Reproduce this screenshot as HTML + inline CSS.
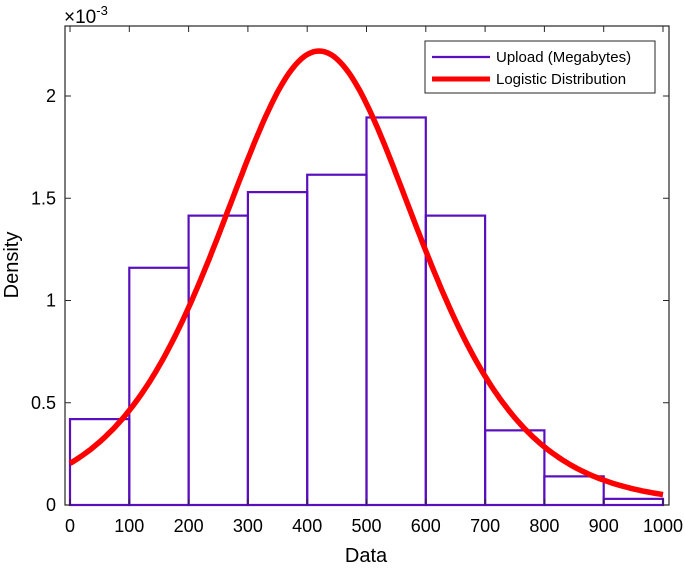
<!DOCTYPE html>
<html><head><meta charset="utf-8"><style>
body{margin:0;background:#fff;}
svg text{font-family:"Liberation Sans",Arial,sans-serif;}
</style></head><body>
<svg id="chart" width="685" height="570" xmlns="http://www.w3.org/2000/svg"></svg>
<script>
const binEdges=[0,100,200,300,400,500,600,700,800,900,1000];
const binDensity=[0.42,1.16,1.415,1.53,1.615,1.895,1.415,0.365,0.14,0.03];
const fitMu=[420];
const fitScale=[112.6];
const xTicks=[0,100,200,300,400,500,600,700,800,900,1000];
const yTicks=[0,0.5,1,1.5,2];
const yTickLabels=["0","0.5","1","1.5","2"];
const NS="http://www.w3.org/2000/svg";
const svg=document.getElementById('chart');
const L=65,R=669,T=26,B=505;
const X=v=>70+v*0.593;
const Y=v=>505-v*204.5;
function mk(t,a,p){const e=document.createElementNS(NS,t);for(const k in a)e.setAttribute(k,a[k]);(p||svg).appendChild(e);return e;}
const box=mk('rect',{x:L,y:T,width:R-L,height:B-T,fill:'none',stroke:'#262626','stroke-width':1.2});


binDensity.forEach((h,i)=>{
 const r=mk('rect',{x:X(binEdges[i]),y:Y(h),width:X(binEdges[i+1])-X(binEdges[i]),height:Y(0)-Y(h),fill:'none',stroke:'#5a0fbf','stroke-width':2.2});
 
 
});
let c='';
for(let v=0;v<=1000;v+=5){const z=Math.exp(-(v-fitMu[0])/fitScale[0]);const p=z/(fitScale[0]*(1+z)*(1+z))*1000;c+=(v?' L':'M')+X(v).toFixed(1)+','+Y(p).toFixed(1);}
const curve=mk('path',{d:c,fill:'none',stroke:'#ff0000','stroke-width':5.5});


xTicks.forEach(v=>{
 mk('line',{x1:X(v),x2:X(v),y1:B,y2:B-6,stroke:'#262626'});
 mk('line',{x1:X(v),x2:X(v),y1:T,y2:T+6,stroke:'#262626'});
 const t=mk('text',{x:X(v),y:532,'font-size':18,'text-anchor':'middle',fill:'#000'});t.textContent=v;
 
 
});
yTicks.forEach((v,i)=>{
 mk('line',{x1:L,x2:L+6,y1:Y(v),y2:Y(v),stroke:'#262626'});
 mk('line',{x1:R,x2:R-6,y1:Y(v),y2:Y(v),stroke:'#262626'});
 const t=mk('text',{x:56,y:Y(v)+6,'font-size':18,'text-anchor':'end',fill:'#000'});t.textContent=yTickLabels[i];
 
 
});
const ex=mk('text',{x:64,y:23,'font-size':19,fill:'#000'});ex.innerHTML='×10<tspan dy="-8" font-size="13">-3</tspan>';


const xt=mk('text',{x:366,y:562,'font-size':20,'text-anchor':'middle',fill:'#000'});xt.textContent='Data';


const yt=mk('text',{x:0,y:0,'font-size':20,'text-anchor':'middle',fill:'#000',transform:'translate(18,265) rotate(-90)'});yt.textContent='Density';


const lg=mk('g',{});


mk('rect',{x:425,y:41,width:230,height:52,fill:'#fff',stroke:'#262626'},lg);
mk('line',{x1:432,x2:490,y1:57,y2:57,stroke:'#5a0fbf','stroke-width':2.2},lg);
mk('line',{x1:432,x2:490,y1:79,y2:79,stroke:'#ff0000','stroke-width':5},lg);
const l1=mk('text',{x:496,y:62,'font-size':15,fill:'#000'},lg);l1.textContent='Upload (Megabytes)';


const l2=mk('text',{x:496,y:84,'font-size':15,fill:'#000'},lg);l2.textContent='Logistic Distribution';


</script>
</body></html>
